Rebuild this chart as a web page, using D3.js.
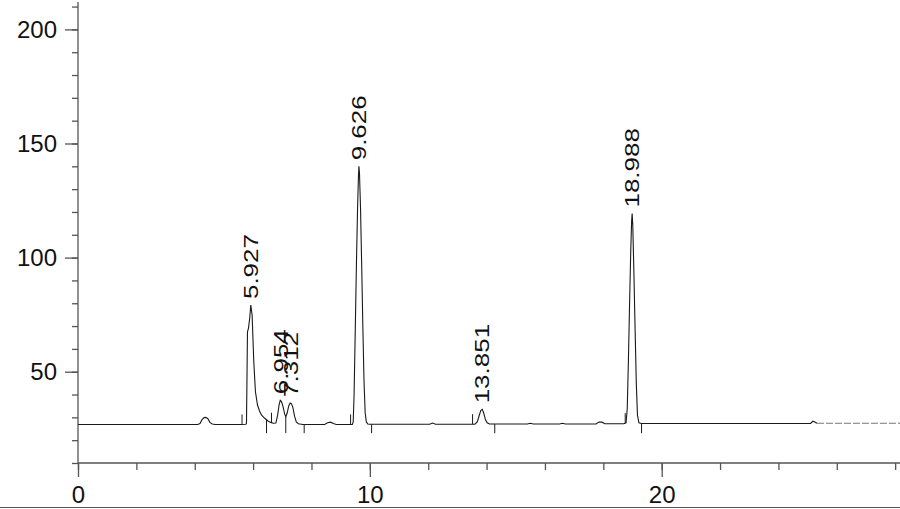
<!DOCTYPE html>
<html>
<head>
<meta charset="utf-8">
<script src="https://cdn.jsdelivr.net/npm/d3@7"></script>
<style>
  html, body { margin: 0; padding: 0; background: #fff; }
  svg { display: block; font-family: "Liberation Sans", Arial, sans-serif; }
</style>
</head>
<body>
<svg id="chart" width="900" height="509"></svg>
<script>
// ---- data ----
const traceTimes = [
  0, 4.10, 4.18, 4.25, 4.32, 4.38, 4.45, 4.52, 4.60, 4.70,
  5.60, 5.75, 5.773, 5.807, 5.84, 5.88, 5.921, 5.966, 6.023, 6.08, 6.15, 6.22, 6.29, 6.40, 6.51, 6.60, 6.69,
  6.78, 6.84, 6.89, 6.93, 6.954, 6.98, 7.03, 7.08, 7.12, 7.17, 7.22, 7.27, 7.312, 7.36, 7.42, 7.48, 7.55, 7.70,
  8.45, 8.55, 8.65, 8.75, 8.85,
  9.40, 9.43, 9.46, 9.50, 9.54, 9.58, 9.61, 9.626, 9.645, 9.68, 9.72, 9.76, 9.80, 9.84, 9.88, 9.93, 10.0,
  12.05, 12.15, 12.25,
  13.60, 13.68, 13.74, 13.80, 13.851, 13.90, 13.96, 14.02, 14.10,
  15.40, 15.50, 15.60, 16.50, 16.60, 16.70,
  17.75, 17.85, 17.95, 18.05,
  18.70, 18.78, 18.82, 18.86, 18.90, 18.94, 18.97, 18.988, 19.01, 19.05, 19.09, 19.13, 19.17, 19.22, 19.30,
  25.10, 25.18, 25.25, 25.32, 25.40, 28.20
];
const traceValues = [
  26.9, 26.9, 27.3, 29.0, 29.9, 30.0, 29.4, 27.8, 27.1, 26.9,
  26.9, 27.0, 27.4, 67.5, 69.0, 73.0, 79.2, 74.8, 54.4, 41.2, 35.4, 32.8, 31.0, 29.6, 28.4, 27.8, 27.4,
  27.5, 31.0, 35.5, 37.5, 37.2, 36.6, 34.5, 31.5, 30.3, 32.0, 35.0, 36.3, 36.0, 34.5, 30.5, 28.0, 27.2, 26.9,
  26.9, 27.6, 27.9, 27.3, 26.9,
  26.9, 28.0, 40.0, 68.0, 97.0, 122.0, 136.0, 140.0, 137.0, 122.0, 97.0, 70.0, 46.0, 32.0, 28.0, 27.1, 27.0,
  27.0, 27.5, 27.0,
  27.0, 28.0, 30.5, 33.0, 33.5, 32.0, 29.0, 27.6, 27.1,
  27.1, 27.4, 27.1, 27.1, 27.4, 27.1,
  27.1, 27.9, 27.9, 27.2,
  27.2, 27.6, 34.0, 55.0, 80.0, 103.0, 116.0, 119.3, 114.0, 92.0, 68.0, 45.0, 31.0, 27.6, 27.3,
  27.3, 28.3, 28.0, 27.4, 27.4, 27.4
];
const noisyFrom = 25.32;           // trace drawn grey/dashed after this time

const peakLabels = ["5.927", "6.954", "7.312", "9.626", "13.851", "18.988"];
const peakTimes  = [5.927, 6.954, 7.312, 9.626, 13.851, 18.988];
const peakTops   = [79.2, 37.5, 36.3, 140.0, 33.5, 119.3];

const markerStartTimes = [5.62, 6.63, 9.34, 13.52, 18.75];     // integration start (tick up)
const markerEndTimes   = [6.46, 7.12, 7.75, 10.06, 14.28, 19.31]; // integration end (tick down)
const baselineLevel = 27.0;

const xMajorTicks = [0, 10, 20];
const xMinorTicks = d3.range(0, 29, 2);
const yMajorTicks = [50, 100, 150, 200];
const yMinorTicks = d3.range(10, 211, 10);

// ---- drawing ----
const svg = d3.select("#chart");
const axisColor = "#555";
const inkColor = "#1a1a1a";

const x = d3.scaleLinear().domain([0, 28.2]).range([78, 901]);
const y = d3.scaleLinear().domain([10, 212]).range([463, 2]);

const pts = traceTimes.map((t, i) => ({ t, v: traceValues[i] }));
const valueAt = t => {
  const i = d3.bisector(d => d.t).left(pts, t);
  if (i <= 0) return pts[0].v;
  if (i >= pts.length) return pts[pts.length - 1].v;
  const a = pts[i - 1], b = pts[i];
  return a.v + (b.v - a.v) * (t - a.t) / (b.t - a.t);
};

// bottom frame line
svg.append("line")
  .attr("x1", 0).attr("x2", 900)
  .attr("y1", 507.5).attr("y2", 507.5)
  .attr("stroke", axisColor).attr("stroke-width", 1.2);

// Y axis: minor ticks
const yMinor = svg.append("g").attr("transform", "translate(78,0)")
  .call(d3.axisLeft(y).tickValues(yMinorTicks).tickSize(6).tickFormat(""));
// Y axis: major ticks + labels
const yMajor = svg.append("g").attr("transform", "translate(78,0)")
  .call(d3.axisLeft(y).tickValues(yMajorTicks).tickSize(13).tickPadding(8).tickFormat(d3.format("d")));

// X axis: minor / major
const xMinor = svg.append("g").attr("transform", "translate(0,463)")
  .call(d3.axisBottom(x).tickValues(xMinorTicks).tickSize(7).tickFormat(""));
const xMajor = svg.append("g").attr("transform", "translate(0,463)")
  .call(d3.axisBottom(x).tickValues(xMajorTicks).tickSize(14).tickPadding(9).tickFormat(d3.format("d")));

[yMinor, yMajor, xMinor, xMajor].forEach(g => {
  g.selectAll("path.domain").attr("stroke", axisColor).attr("stroke-width", 1.3);
  g.selectAll(".tick line").attr("stroke", axisColor).attr("stroke-width", 1.3);
  g.selectAll(".tick text").attr("fill", "#111").attr("font-size", 24)
    .attr("font-family", "'Liberation Sans', Arial, sans-serif");
});
// only keep one domain path per axis direction
yMinor.select("path.domain").remove();
xMinor.select("path.domain").remove();
yMajor.select("path.domain").attr("d", `M0,${y.range()[1]}V${y.range()[0]}`);
xMajor.select("path.domain").attr("d", `M${x.range()[0]},0H900`);

// trace
const line = d3.line().x(d => x(d.t)).y(d => y(d.v)).curve(d3.curveLinear);
const mainPts = pts.filter(d => d.t <= noisyFrom);
const tailPts = pts.filter(d => d.t >= noisyFrom);
svg.append("path").datum(mainPts)
  .attr("d", line).attr("fill", "none")
  .attr("stroke", inkColor).attr("stroke-width", 1.1);
svg.append("path").datum(tailPts)
  .attr("d", line).attr("fill", "none")
  .attr("stroke", "#777").attr("stroke-width", 1.1)
  .attr("stroke-dasharray", "7,2");

// integration markers
svg.append("g").selectAll("line").data(markerStartTimes).join("line")
  .attr("x1", d => x(d)).attr("x2", d => x(d))
  .attr("y1", d => y(valueAt(d))).attr("y2", d => y(valueAt(d)) - 10)
  .attr("stroke", inkColor).attr("stroke-width", 1);
svg.append("g").selectAll("line").data(markerEndTimes).join("line")
  .attr("x1", d => x(d)).attr("x2", d => x(d))
  .attr("y1", d => y(valueAt(d))).attr("y2", d => y(baselineLevel) + 9)
  .attr("stroke", inkColor).attr("stroke-width", 1);

// peak labels (rotated)
svg.append("g").selectAll("text").data(peakLabels).join("text")
  .attr("transform", (d, i) =>
    `translate(${x(peakTimes[i]) + 7},${y(peakTops[i]) - 6}) rotate(-90) scale(1.3,1)`)
  .attr("text-anchor", "start")
  .attr("font-size", 20)
  .attr("fill", "#111")
  .text(d => d);
</script>
</body>
</html>
